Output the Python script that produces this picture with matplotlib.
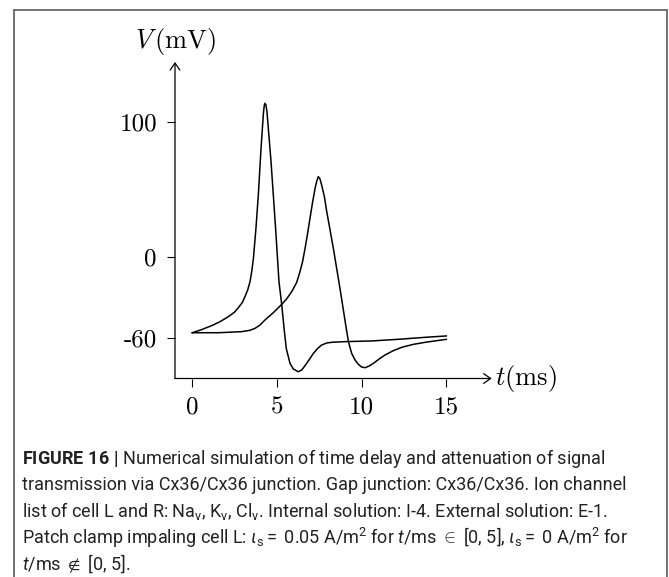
import matplotlib
matplotlib.use("Agg")
import matplotlib.pyplot as plt
from matplotlib.patches import Rectangle

CAPTION_FONT = ['Roboto', 'Liberation Sans', 'DejaVu Sans']

plt.rcParams['axes.unicode_minus'] = False
plt.rcParams['mathtext.fontset'] = 'custom'
plt.rcParams['mathtext.rm'] = 'Roboto'
plt.rcParams['mathtext.it'] = 'Roboto:italic'
plt.rcParams['mathtext.bf'] = 'Roboto:bold'

# membrane potential of cell L (stimulated) and cell R
t_L = [0.0, 0.55, 1.14, 1.64, 2.13, 2.48, 2.72, 2.96, 3.11, 3.27, 3.41, 3.51,
       3.61, 3.76, 3.90, 4.06, 4.14, 4.20, 4.25, 4.29, 4.35, 4.41, 4.49, 4.65,
       4.92, 5.12, 5.28, 5.42, 5.55, 5.77, 5.97, 6.26, 6.46, 6.66, 6.89, 7.15,
       7.41, 7.64, 7.94, 8.23, 9.02, 10.59, 12.37, 13.75, 15.0]
V_L = [-56.3, -54.0, -51.1, -48.1, -44.4, -41.2, -37.8, -33.8, -29.6, -24.7, -18.5, -11.1,
       -1.2, 21.0, 45.7, 80.3, 95.1, 106.2, 111.9, 113.6, 112.4, 107.4, 95.1, 70.4,
       21.0, -18.5, -35.3, -53.1, -67.9, -79.0, -83.2, -85.2, -83.9, -80.7, -76.5, -71.6,
       -67.9, -65.4, -63.9, -63.4, -62.9, -62.4, -61.0, -59.7, -58.7]

t_R = [0.0, 1.54, 2.92, 3.41, 3.70, 4.00, 4.29, 4.79, 5.28, 5.57, 5.87, 6.16,
       6.36, 6.52, 6.66, 6.81, 6.95, 7.11, 7.25, 7.35, 7.44, 7.54, 7.64, 7.80,
       7.94, 8.33, 8.72, 9.06, 9.22, 9.41, 9.61, 9.81, 10.00, 10.20, 10.44, 10.69,
       11.03, 11.38, 11.87, 12.37, 13.06, 13.75, 15.0]
V_R = [-56.3, -56.3, -55.5, -54.5, -53.1, -50.6, -46.9, -41.4, -35.3, -31.3, -25.9, -19.2,
       -11.1, -3.2, 6.2, 17.3, 28.4, 40.8, 50.6, 56.1, 59.3, 57.6, 53.1, 44.5,
       33.4, 6.2, -23.4, -50.6, -62.9, -71.6, -76.5, -79.7, -81.7, -82.2, -81.0, -79.0,
       -75.8, -72.8, -69.6, -67.1, -64.9, -63.4, -61.2]

x_ticks = [0, 5, 10, 15]
y_ticks = [-60, 0, 100]

caption = [
    r"$\mathbf{FIGURE\ 16\ |}$ Numerical simulation of time delay and attenuation of signal",
    "transmission via Cx36/Cx36 junction. Gap junction: Cx36/Cx36. Ion channel",
    r"list of cell L and R: Na$_\mathrm{v}$, K$_\mathrm{v}$, Cl$_\mathrm{v}$. Internal solution: I-4. External solution: E-1.",
    r"Patch clamp impaling cell L: $\iota_\mathrm{s}=$ 0.05 A/m$^2$ for $t$/ms $\in$ [0, 5], $\iota_\mathrm{s}=$ 0 A/m$^2$ for",
    r"$t$/ms $\notin$ [0, 5].",
]

W, H = 669, 577
fig = plt.figure(figsize=(W / 100, H / 100), dpi=100)

# grey frame around the figure panel (runs off the bottom)
fig.patches.append(Rectangle((14 / W, -0.05), (667 - 14) / W, 1.05 - 10 / H,
                             transform=fig.transFigure, fill=False,
                             edgecolor='#666666', lw=1.3))

ax = fig.add_axes([175 / W, 1 - 378.5 / H, (491.7 - 175) / W, (378.5 - 62) / H])
ax.plot(t_L, V_L, color='black', lw=1.1)
ax.plot(t_R, V_R, color='black', lw=1.1)
ax.set_xlim(-1.02, 17.68)
ax.set_ylim(-90.2, 144.2)

for s in ax.spines.values():
    s.set_visible(False)
arrow = dict(arrowstyle='->,head_length=0.5,head_width=0.35', lw=0.9, color='black',
             shrinkA=0, shrinkB=0)
ax.annotate('', xy=(1, 0), xytext=(0, 0), xycoords='axes fraction', arrowprops=arrow)
ax.annotate('', xy=(0, 1), xytext=(0, 0), xycoords='axes fraction', arrowprops=arrow)

ax.set_xticks(x_ticks)
ax.set_yticks(y_ticks)
ax.tick_params(direction='out', length=6, width=0.8, labelsize=18, pad=7,
               labelfontfamily='cmr10')

fig.text(175 / W, 1 - 41.7 / H, r'$V\,(\mathrm{mV})$', ha='center', va='center',
         fontsize=19, math_fontfamily='cm')
fig.text(495 / W, 1 - 379 / H, r'$t(\mathrm{ms})$', ha='left', va='center',
         fontsize=19, math_fontfamily='cm')

y0 = 458
for i, line in enumerate(caption):
    fig.text(22 / W, 1 - (y0 + 26.5 * i) / H, line, ha='left', va='center',
             fontsize=13, family=CAPTION_FONT, color='#222222')

fig.savefig('out.png', dpi=100)
